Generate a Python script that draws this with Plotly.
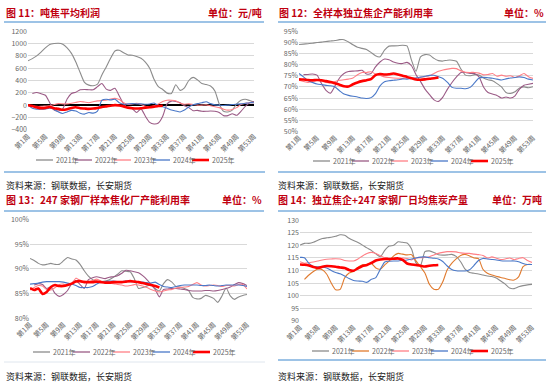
import plotly.graph_objects as go

W, H = 550, 385
FONT = "Noto Sans CJK SC"

weeks = list(range(1, 54))
tick_weeks = list(range(1, 54, 4))
tick_labels = [f"第{w}周" for w in tick_weeks]
years = ["2021年", "2022年", "2023年", "2024年", "2025年"]

# ---------------- Panel 1: 吨焦平均利润 (元/吨) ----------------
p1_2021 = [720, 755, 800, 860, 930, 985, 1000, 1005, 990, 930, 840, 700, 530, 370, 325, 315, 340, 490, 620, 760,
           880, 890, 850, 815, 810, 790, 760, 700, 600, 420, 300, 255, 195, 190, 330, 240, 280, 400, 450, 410,
           350, 335, 310, 230, 20, -100, -110, -80, 20, 80, 95, 75, 50]
p1_2022 = [None, 190, 205, 185, 160, 40, -80, -95, -60, 100, 190, 210, 250, 255, 250, 250, 300, 350, 260, 240,
           275, 150, 20, -40, -60, -120, -60, -180, -280, -305, -290, -180, 20, 65, 60, 40, -10, -40, -90, -85,
           -100, -100, -95, -100, -120, -170, -170, -140, -165, -100, -20, 40, 60]
p1_2023 = [0, -10, -20, -20, -15, -10, 10, 25, 20, 20, 30, 45, 60, 50, 40, 55, 70, 75, 80, 100,
           110, 90, 40, 10, 20, 30, 10, -20, -30, -10, 20, 60, 80, 80, 70, 30, 15, 20, 10, 0,
           0, 5, -10, -25, -40, -65, -80, -70, -40, 10, 30, 40, 40]
p1_2024 = [0, -50, -65, -65, -60, -50, -70, -110, -135, -110, -85, -95, -130, -145, -120, -130, -95, 80, 95, 85,
           95, 40, 15, 20, 25, 20, 20, 15, 20, 35, -10, -25, -50, -80, -95, -110, -80, -30, 5, 25,
           40, 55, 25, 5, 0, -5, 0, 10, 15, 20, 30, 40, 40]
p1_2025 = [0, -15, -35, -50, -45, -30, -50, -60, -75, -65, -45, -35, -50, -55, -60, -55, -45, -30, -20, -10,
           0, -5, -20, -40, -50, -55, -50, -40, -35, -25, -15, -10]

# ---------------- Panel 2: 全样本独立焦企产能利用率 (%) ----------------
p2_2021 = [89.0, 89.2, 89.4, 89.6, 89.9, 90.1, 90.4, 90.6, 90.8, 91.2, 91.2, 90.2, 88.9, 87.8, 87.3, 86.8, 85.5, 84.0, 83.5, 86.5,
           88.3, 88.4, 88.5, 88.7, 88.4, 82.0, 77.0, 83.5, 84.5, 84.3, 82.8, 81.8, 81.6, 82.0, 82.0, 81.5, 78.0, 75.3, 75.0, 75.5,
           75.3, 74.0, 73.2, 72.8, 71.5, 70.0, 67.5, 67.1, 67.8, 69.5, 70.0, 69.6, 70.1]
p2_2022 = [None, 75.5, 75.6, 75.8, 75.3, 71.5, 68.5, 67.2, 70.5, 74.0, 76.0, 76.9, 77.1, 77.2, 77.5, 75.8, 76.0, 79.0, 81.2, 82.5,
           82.2, 81.2, 80.6, 80.5, 81.0, 79.5, 75.5, 72.5, 69.0, 66.5, 64.2, 63.5, 65.5, 69.0, 72.0, 74.5, 76.5, 76.5, 76.1, 76.0,
           74.5, 70.0, 67.5, 66.8, 66.2, 65.0, 65.5, 65.0, 66.0, 69.0, 70.8, 71.2, 71.6]
p2_2023 = [73.0, 72.5, 72.0, 72.5, 73.0, 72.6, 72.0, 71.8, 72.4, 73.0, 73.2, 73.5, 74.0, 75.5, 76.5, 76.5, 76.8, 75.8, 75.2, 74.5,
           74.2, 74.0, 73.9, 73.8, 74.0, 73.8, 74.0, 74.3, 74.6, 75.0, 76.0, 77.0, 77.6, 78.0, 78.3, 78.2, 77.2, 76.6, 76.5, 76.5,
           76.2, 75.4, 75.6, 76.0, 74.8, 75.3, 74.8, 75.0, 74.2, 75.0, 76.0, 74.6, 73.8]
p2_2024 = [76.0, 74.5, 72.8, 72.0, 71.3, 71.0, 70.7, 70.5, 70.0, 68.3, 66.8, 66.2, 65.8, 65.5, 65.0, 64.8, 65.2, 67.0, 70.5, 72.3,
           72.8, 73.0, 73.2, 73.6, 73.5, 73.8, 74.0, 74.4, 74.8, 75.2, 75.2, 74.6, 73.8, 72.0, 69.8, 69.4, 69.4, 69.2, 69.8, 71.8,
           74.0, 74.3, 74.1, 73.9, 73.5, 73.1, 73.6, 74.0, 74.2, 74.5, 74.2, 73.5, 73.1]
p2_2025 = [73.4, 73.3, 73.1, 73.0, 73.1, 73.0, 72.6, 72.2, 71.6, 71.0, 70.3, 70.2, 71.2, 72.0, 72.6, 73.0, 73.5, 75.3, 75.8, 75.6,
           75.7, 76.0, 75.6, 75.0, 74.5, 73.9, 73.3, 73.2, 73.4, 73.7, 73.9, 74.2]

# ---------------- Panel 3: 247 家钢厂样本焦化厂产能利用率 (%) ----------------
p3_2021 = [92.1, 91.7, 91.1, 90.8, 90.9, 91.1, 90.9, 90.9, 91.6, 92.3, 92.0, 91.8, 90.9, 89.6, 88.5, 87.8, 87.4, 87.4, 87.5, 87.8,
           88.3, 88.9, 89.6, 89.5, 89.4, 88.0, 86.0, 86.2, 86.5, 86.8, 86.0, 85.5, 87.0, 87.8, 87.3, 86.4, 86.3, 86.0, 85.6, 84.2,
           83.9, 84.0, 84.6, 84.4, 84.0, 83.2, 84.5, 86.1, 84.5, 83.8, 84.3, 84.6, 84.8]
p3_2022 = [None, 86.7, 87.0, 86.8, 86.0, 86.3, 85.0, 84.4, 84.8, 85.6, 87.0, 87.6, 86.8, 86.0, 87.8, 88.2, 88.4, 88.2, 88.0, 88.3,
           88.4, 88.6, 89.1, 89.7, 89.6, 89.4, 89.2, 88.6, 87.8, 86.8, 85.8, 84.3, 85.8, 85.9, 86.0, 86.0, 85.9, 85.8, 85.6, 85.5,
           85.5, 85.5, 85.6, 85.6, 85.5, 85.6, 85.8, 86.0, 86.3, 86.8, 87.2, 87.0, 86.6]
p3_2023 = [85.7, 86.2, 86.6, 86.5, 85.8, 85.7, 86.2, 86.8, 86.9, 86.6, 87.0, 88.1, 87.6, 87.5, 87.3, 87.6, 87.9, 87.5, 87.1, 87.1,
           87.0, 86.8, 86.7, 86.5, 86.6, 86.8, 86.7, 86.5, 86.2, 85.8, 85.5, 85.3, 85.5, 85.7, 85.8, 86.1, 86.2, 86.3, 86.4, 86.8,
           87.2, 86.7, 86.5, 86.6, 86.7, 86.6, 86.4, 86.6, 86.6, 86.5, 86.8, 86.8, 85.9]
p3_2024 = [86.9, 87.0, 87.1, 87.3, 87.4, 87.4, 87.4, 87.4, 87.3, 87.1, 86.9, 86.6, 86.2, 86.2, 86.2, 86.4, 86.9, 87.3, 87.4, 87.5,
           87.5, 87.4, 87.4, 87.5, 87.4, 87.4, 87.3, 87.3, 87.2, 87.1, 87.3, 86.8, 86.4, 86.3, 86.2, 86.4, 86.6, 86.7, 86.7, 86.7,
           86.7, 86.6, 86.6, 86.7, 86.6, 86.5, 86.6, 86.7, 86.7, 86.7, 86.7, 86.6, 86.4]
p3_2025 = [86.1, 85.7, 86.0, 84.9, 85.3, 86.3, 86.7, 86.5, 86.5, 86.7, 87.0, 87.4, 87.5, 87.3, 87.3, 87.3, 87.4, 87.3, 87.2, 87.2,
           87.3, 87.3, 87.3, 87.4, 87.5, 87.4, 87.3, 87.1, 86.9, 86.7, 86.5, 86.2]

# ---------------- Panel 4: 独立焦企+247 家钢厂日均焦炭产量 (万吨) ----------------
p4_2021 = [120.1, 120.8, 120.8, 121.2, 122.0, 122.7, 123.0, 123.2, 123.6, 124.2, 124.0, 122.8, 121.9, 121.1, 120.1, 119.0, 118.0, 116.6, 115.5, 118.0,
           119.7, 120.0, 121.4, 121.2, 120.9, 118.5, 113.0, 112.0, 117.5, 117.8, 117.2, 116.3, 116.1, 116.2, 116.4, 115.6, 113.5, 110.5, 109.2, 108.9,
           108.6, 108.2, 107.8, 107.6, 107.0, 105.8, 104.6, 103.0, 102.8, 103.5, 104.0, 104.3, 104.5]
p4_2022 = [None, 106.5, 108.2, 109.6, 110.6, 110.3, 108.5, 105.0, 102.3, 102.5, 107.0, 109.0, 109.6, 111.3, 112.3, 112.4, 112.8, 111.0, 110.5, 112.2,
           113.8, 115.8, 116.8, 116.5, 116.2, 116.3, 113.8, 111.5, 109.0, 104.5, 102.5, 102.5, 105.5, 110.3, 112.8, 114.6, 116.0, 116.4, 115.8, 115.0,
           114.7, 110.5, 108.9, 108.2, 107.7, 107.2, 106.8, 106.3, 106.2, 107.5, 111.5, 112.4, 112.4]
p4_2023 = [113.5, 112.9, 113.1, 113.4, 113.8, 114.2, 114.5, 114.6, 114.7, 114.6, 114.0, 113.8, 113.8, 114.6, 115.8, 116.8, 117.2, 116.8, 115.9, 115.1,
           114.7, 114.6, 114.7, 115.0, 114.8, 114.2, 115.0, 115.1, 115.2, 115.5, 116.2, 116.8, 117.2, 117.5, 117.5, 117.4, 117.0, 116.8, 116.8, 116.5,
           116.3, 116.0, 115.0, 115.4, 114.9, 114.4, 114.6, 115.0, 114.3, 114.8, 115.1, 114.0, 113.2]
p4_2024 = [115.2, 115.1, 112.8, 111.6, 111.5, 111.4, 111.0, 110.0, 109.2, 108.7, 107.8, 106.8, 106.0, 105.8, 105.7, 105.3, 106.5, 107.2, 110.5, 113.4,
           113.7, 113.8, 113.8, 114.0, 114.2, 114.6, 115.0, 115.3, 115.4, 115.1, 114.9, 114.6, 113.6, 111.8, 110.4, 109.9, 109.8, 109.8, 110.3, 112.0,
           114.0, 114.8, 114.6, 114.4, 114.2, 113.9, 113.8, 113.8, 113.8, 113.5, 112.8, 112.4, 112.4]
p4_2025 = [112.4, 112.3, 112.0, 111.4, 111.0, 111.5, 111.8, 111.7, 111.5, 111.2, 111.0, 110.2, 109.9, 110.9, 111.8, 112.2, 113.0, 114.0, 114.4, 114.6,
           114.6, 114.7, 114.8, 114.2, 112.8, 112.4, 112.2, 111.9, 111.6, 111.9, 112.1, 112.2]

# ---------------- styling ----------------
C2021, C2022, C2022B, C2023, C2024, C2025 = "#8c8c8c", "#9b5b86", "#e07a2e", "#ff7f86", "#4a78c8", "#ff0000"
GRID = "#d9d9d9"
TICKC = "#666666"
TITLE_RED = "#c0000f"
SEP = "#9dc3e6"


def px(x):
    return x / W


def py(y):
    return 1 - y / H


panels = [
    ("", [p1_2021, p1_2022, p1_2023, p1_2024, p1_2025], [C2021, C2022, C2023, C2024, C2025],
     (28, 254), (31, 130), (-400, 1200), 200, "", [36, 75, 114, 153, 192], 160),
    ("2", [p2_2021, p2_2022, p2_2023, p2_2024, p2_2025], [C2021, C2022, C2023, C2024, C2025],
     (299, 533), (31, 131.7), (50, 95), 5, "%", [313, 352, 391, 431, 471], 161),
    ("3", [p3_2021, p3_2022, p3_2023, p3_2024, p3_2025], [C2021, C2022, C2023, C2024, C2025],
     (30, 247), (219.3, 318.3), (80, 100), 5, "%", [33, 73, 113, 153, 193], 352),
    ("4", [p4_2021, p4_2022, p4_2023, p4_2024, p4_2025], [C2021, C2022B, C2023, C2024, C2025],
     (300, 532), (220, 321), (90, 130), 5, "", [312, 352, 392, 431, 471], 351),
]

fig = go.Figure()
shapes = []
annotations = []
layout_axes = {}

for suf, series, colors, xd, yd, yr, dt, tsuf, leg_x, leg_y in panels:
    xa = "x" + suf
    ya = "y" + suf
    for name, vals, col in zip(years, series, colors):
        is_now = name == "2025年"
        fig.add_trace(go.Scatter(
            x=weeks[:len(vals)], y=vals, mode="lines", name=name,
            line=dict(color=col, width=2.6 if is_now else 1.1, shape="spline", smoothing=0.6),
            xaxis=xa, yaxis=ya, showlegend=False, connectgaps=False,
        ))
    span = yr[1] - yr[0]
    layout_axes["xaxis" + suf] = dict(
        domain=[px(xd[0]), px(xd[1])], range=[1, 53], anchor=ya, automargin=False,
        tickmode="array", tickvals=tick_weeks, ticktext=tick_labels, tickangle=-45,
        showgrid=False, zeroline=False, showline=False, ticks="",
        tickfont=dict(family=FONT, size=7, color=TICKC),
    )
    layout_axes["yaxis" + suf] = dict(
        domain=[py(yd[1]), py(yd[0])], range=[yr[0] - span * 0.002, yr[1] + span * 0.002], anchor=xa,
        automargin=False,
        dtick=dt, tick0=yr[0], ticksuffix=tsuf, showgrid=True, gridcolor=GRID, gridwidth=1,
        zeroline=(suf == ""), zerolinecolor="#000000", zerolinewidth=1.6, showline=False, ticks="",
        tickfont=dict(family=FONT, size=7, color=TICKC),
    )
    # compact legend
    for name, col, lx in zip(years, colors, leg_x):
        is_now = name == "2025年"
        shapes.append(dict(type="line", xref="paper", yref="paper",
                           x0=px(lx), x1=px(lx + 17), y0=py(leg_y), y1=py(leg_y),
                           line=dict(color=col, width=2.6 if is_now else 1.3)))
        annotations.append(dict(text=name, xref="paper", yref="paper", x=px(lx + 18), y=py(leg_y),
                                xanchor="left", yanchor="middle", showarrow=False,
                                font=dict(family=FONT, size=7, color=TICKC)))

titles = [
    ("图 11：吨焦平均利润", 5, 12.5, "单位：元/吨", 263),
    ("图 12：全样本独立焦企产能利用率", 278, 12.5, "单位：%", 545),
    ("图 13：247 家钢厂样本焦化厂产能利用率", 5, 199.5, "单位：%", 263),
    ("图 14：独立焦企+247 家钢厂日均焦炭产量", 277, 199.5, "单位：万吨", 543),
]
for t, x0, y0, unit, xr in titles:
    annotations.append(dict(text="<b>" + t + "</b>", xref="paper", yref="paper", x=px(x0), y=py(y0),
                            xanchor="left", yanchor="middle", showarrow=False, borderpad=0,
                            font=dict(family=FONT, size=10, color=TITLE_RED)))
    annotations.append(dict(text="<b>" + unit + "</b>", xref="paper", yref="paper", x=px(xr), y=py(y0),
                            xanchor="right", yanchor="middle", showarrow=False, borderpad=0,
                            font=dict(family=FONT, size=10, color=TITLE_RED)))

for sx, sy in [(5, 185.5), (277, 185.5), (5, 376), (277, 376)]:
    annotations.append(dict(text="资料来源：钢联数据，长安期货", xref="paper", yref="paper", x=px(sx), y=py(sy),
                            xanchor="left", yanchor="middle", showarrow=False, borderpad=0,
                            font=dict(family=FONT, size=9, color="#222222")))

for x0, x1, y0, w in [(4, 264, 22, 2), (278, 546, 22, 2), (4, 265, 172, 2.2), (278, 546, 172, 2.2),
                      (4, 264, 211, 2), (278, 546, 211, 2), (4, 265, 362, 1), (278, 546, 360, 2)]:
    shapes.append(dict(type="line", xref="paper", yref="paper", x0=px(x0), x1=px(x1), y0=py(y0), y1=py(y0),
                       line=dict(color=SEP if w > 1 else "#dfe6ee", width=w)))

fig.update_layout(
    width=W, height=H, margin=dict(l=0, r=0, t=0, b=0, autoexpand=False),
    paper_bgcolor="white", plot_bgcolor="white",
    showlegend=False, shapes=shapes, annotations=annotations,
    font=dict(family=FONT),
    **layout_axes,
)

fig.write_html("out.html", config={"displayModeBar": False},
               post_script="document.body.style.margin='0';document.body.style.padding='0';")
